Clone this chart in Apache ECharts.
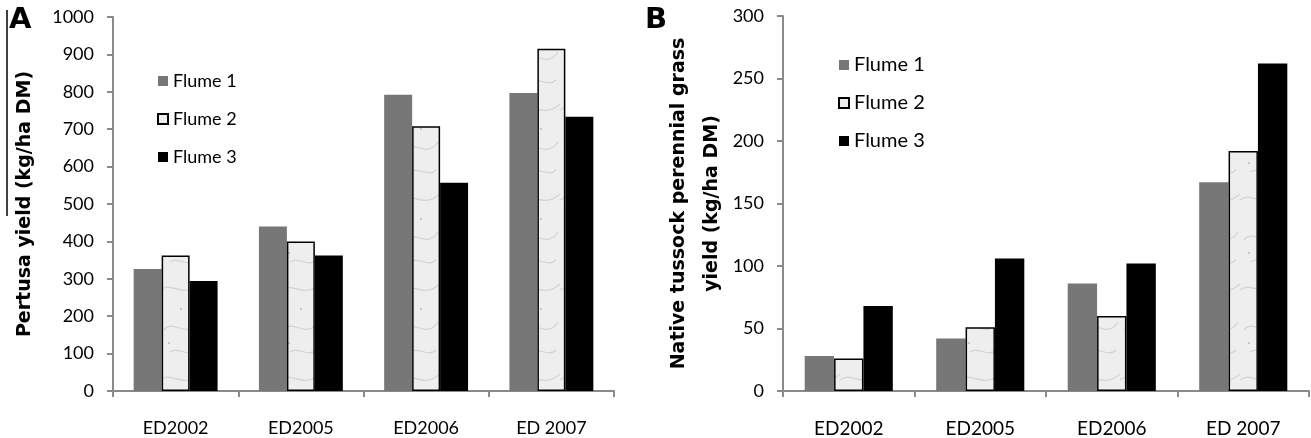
<!DOCTYPE html>
<html>
<head>
<meta charset="utf-8">
<script src="https://cdn.jsdelivr.net/npm/echarts@6/dist/echarts.min.js"></script>
<style>
  html, body { margin: 0; padding: 0; background: #fff; }
  #chart { width: 1311px; height: 438px; }
</style>
</head>
<body>
<div id="chart"></div>
<script>
  // categories and values
  var years = ['ED2002', 'ED2005', 'ED2006', 'ED 2007'];
  var flumeNames = ['Flume 1', 'Flume 2', 'Flume 3'];

  // panel A - Pertusa yield (kg/ha DM)
  var pertusaF1 = [326, 440, 792, 797];
  var pertusaF2 = [362, 400, 708, 915];
  var pertusaF3 = [294, 362, 557, 733];
  var pertusaTicks = [0, 1000, 100];

  // panel B - native tussock perennial grass yield (kg/ha DM)
  var nativeF1 = [28, 42, 86, 167];
  var nativeF2 = [26, 51, 60, 192];
  var nativeF3 = [68, 106, 102, 262];
  var nativeTicks = [0, 300, 50];

  // light marble-ish fill for Flume 2
  function marble() {
    var c = document.createElement('canvas');
    c.width = 40; c.height = 90;
    var ctx = c.getContext('2d');
    ctx.fillStyle = '#eeeeee';
    ctx.fillRect(0, 0, 40, 90);
    ctx.strokeStyle = 'rgba(150,150,150,0.3)';
    ctx.lineWidth = 1.2;
    ctx.beginPath();
    ctx.moveTo(0, 20); ctx.bezierCurveTo(12, 10, 22, 30, 40, 14);
    ctx.moveTo(4, 60); ctx.bezierCurveTo(14, 48, 26, 70, 38, 52);
    ctx.moveTo(10, 82); ctx.bezierCurveTo(18, 76, 28, 88, 36, 80);
    ctx.stroke();
    ctx.fillStyle = 'rgba(140,140,140,0.4)';
    ctx.fillRect(20, 38, 2, 2);
    ctx.fillRect(8, 72, 2, 2);
    return c;
  }
  var f2Fill = { image: marble(), repeat: 'repeat' };

  var fontTick = 'Lato';
  var axisGray = '#8a8a8a';

  function xAxisFor(grid, size) {
    return {
      type: 'category', gridIndex: grid, data: years,
      axisLine: { lineStyle: { color: axisGray, width: 2 } },
      axisTick: { show: true, length: 6, lineStyle: { color: axisGray, width: 2 } },
      axisLabel: { color: '#000', fontFamily: fontTick, fontSize: size, margin: 28 }
    };
  }
  function yAxisFor(grid, ticks, name, gap) {
    return {
      type: 'value', gridIndex: grid, min: ticks[0], max: ticks[1], interval: ticks[2],
      name: name, nameLocation: 'middle', nameGap: gap,
      nameTextStyle: { color: '#000', fontFamily: 'DejaVu Sans', fontWeight: 'bold', fontSize: 19, lineHeight: 33 },
      axisLine: { show: true, lineStyle: { color: axisGray, width: 2 } },
      axisTick: { show: true, length: 6, lineStyle: { color: axisGray, width: 2 } },
      splitLine: { show: false },
      axisLabel: { color: '#000', fontFamily: fontTick, fontSize: 18, margin: 19,
        formatter: function (v) { return String(v); } }
    };
  }
  function bars(name, data, grid, style) {
    return {
      name: name, type: 'bar', xAxisIndex: grid, yAxisIndex: grid, data: data,
      barGap: '0%', barCategoryGap: '33%', itemStyle: style, emphasis: { disabled: true }
    };
  }
  var s1 = { color: '#777777' };
  var s2 = { color: f2Fill, borderColor: '#000', borderWidth: 1.5 };
  var s3 = { color: '#000000' };

  function legendFor(left, top, gap, size) {
    return {
      data: flumeNames.map(function (n) { return { name: n }; }),
      orient: 'vertical', left: left, top: top, itemGap: gap,
      itemWidth: 10, itemHeight: 10, icon: 'rect',
      textStyle: { color: '#000', fontFamily: fontTick, fontSize: size },
      selectedMode: false
    };
  }

  var chart = echarts.init(document.getElementById('chart'));
  chart.setOption({
    animation: false,
    grid: [
      { left: 113, top: 17, width: 501, height: 374 },
      { left: 783, top: 16, width: 526, height: 375 }
    ],
    xAxis: [xAxisFor(0, 18), xAxisFor(1, 19)],
    yAxis: [
      yAxisFor(0, pertusaTicks, 'Pertusa yield (kg/ha DM)', 71),
      yAxisFor(1, nativeTicks, 'Native tussock perennial grass\nyield (kg/ha DM)', 51)
    ],
    legend: [
      legendFor(152, 67, 20, 18),
      legendFor(833, 50, 18, 20)
    ],
    series: [
      bars(flumeNames[0], pertusaF1, 0, s1),
      bars(flumeNames[1], pertusaF2, 0, s2),
      bars(flumeNames[2], pertusaF3, 0, s3),
      bars(flumeNames[0], nativeF1, 1, s1),
      bars(flumeNames[1], nativeF2, 1, s2),
      bars(flumeNames[2], nativeF3, 1, s3)
    ],
    graphic: [
      { type: 'text', left: 9, top: 6, style: { text: 'A', font: 'bold 29px "DejaVu Sans"', fill: '#000' } },
      { type: 'text', left: 645, top: 6, style: { text: 'B', font: 'bold 29px "DejaVu Sans"', fill: '#000' } },
      { type: 'line', shape: { x1: 7, y1: 10, x2: 7, y2: 216 }, style: { stroke: '#000', lineWidth: 1.5 } }
    ]
  });
</script>
</body>
</html>
